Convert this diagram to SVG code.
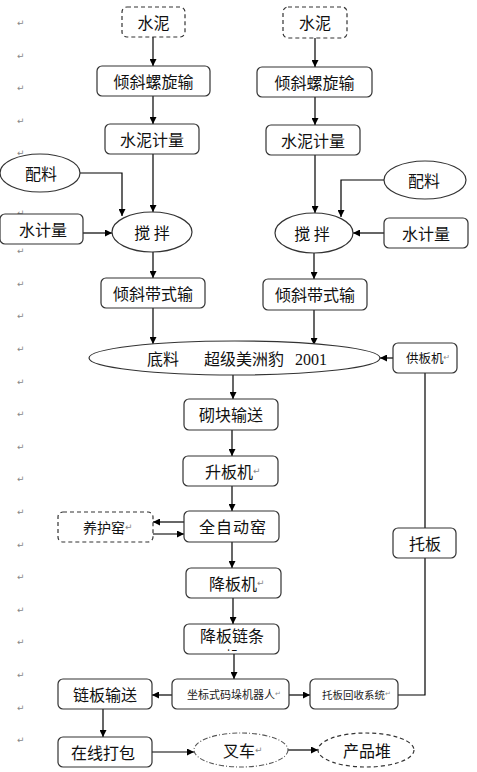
<svg xmlns="http://www.w3.org/2000/svg" width="477" height="772" viewBox="0 0 477 772">
<defs>
<marker id="ah" viewBox="0 0 10 10" refX="10" refY="5" markerWidth="8" markerHeight="7" markerUnits="userSpaceOnUse" orient="auto">
<path d="M0,0 L10,5 L0,10 z" fill="#000"/>
</marker>
<clipPath id="clipLine2"><rect x="185" y="645" width="93" height="6"/></clipPath>
</defs>
<style>
.box{fill:#fff;stroke:#333;stroke-width:1.2}
.dash{fill:#fff;stroke:#333;stroke-width:1.2;stroke-dasharray:4 3}
.dashdot{fill:#fff;stroke:#555;stroke-width:1.1;stroke-dasharray:5 2 1 2}
.t{font-family:"Noto Sans CJK SC","Noto Sans",sans-serif;font-size:16px;fill:#111;dominant-baseline:central}
.tc{text-anchor:middle}
.s{font-size:11px}
.pm{font-family:"DejaVu Sans",sans-serif;font-size:9px;fill:#888;dominant-baseline:central}
.c{fill:none;stroke:#000;stroke-width:1.2}
.ca{fill:none;stroke:#000;stroke-width:1.2;marker-end:url(#ah)}
</style>
<rect width="477" height="772" fill="#fff"/>

<g id="paragraph-marks">
<text class="pm" x="17" y="23">↵</text>
<text class="pm" x="17" y="56">↵</text>
<text class="pm" x="17" y="88">↵</text>
<text class="pm" x="17" y="121">↵</text>
<text class="pm" x="17" y="153">↵</text>
<text class="pm" x="17" y="186">↵</text>
<text class="pm" x="17" y="213">↵</text>
<text class="pm" x="17" y="251">↵</text>
<text class="pm" x="17" y="284">↵</text>
<text class="pm" x="17" y="316">↵</text>
<text class="pm" x="17" y="349">↵</text>
<text class="pm" x="17" y="382">↵</text>
<text class="pm" x="17" y="414">↵</text>
<text class="pm" x="17" y="447">↵</text>
<text class="pm" x="17" y="479">↵</text>
<text class="pm" x="17" y="512">↵</text>
<text class="pm" x="17" y="545">↵</text>
<text class="pm" x="17" y="577">↵</text>
<text class="pm" x="17" y="610">↵</text>
<text class="pm" x="17" y="642">↵</text>
<text class="pm" x="17" y="675">↵</text>
<text class="pm" x="17" y="708">↵</text>
<text class="pm" x="17" y="740">↵</text>
</g>

<g id="connectors">
<path class="ca" d="M153,37 V66"/>
<path class="ca" d="M153,96 V124"/>
<path class="ca" d="M153,154 V212"/>
<path class="ca" d="M80,173 H122 V216"/>
<path class="ca" d="M83,233 H112"/>
<path class="ca" d="M153,252 V278"/>
<path class="ca" d="M153,308 V344"/>
<path class="ca" d="M315,38 V67"/>
<path class="ca" d="M315,97 V125"/>
<path class="ca" d="M315,155 V213"/>
<path class="ca" d="M384,180 H341 V217"/>
<path class="ca" d="M384,233 H353"/>
<path class="ca" d="M314,253 V279"/>
<path class="ca" d="M314,310 V345"/>
<path class="ca" d="M393,358 H380"/>
<path class="ca" d="M233,375 V399"/>
<path class="ca" d="M232,430 V456"/>
<path class="ca" d="M232,486 V511"/>
<path class="ca" d="M184,522 H153"/>
<path class="ca" d="M153,534 H184" style="stroke:#555;stroke-width:1.6"/>
<path class="ca" d="M232,542 V568"/>
<path class="ca" d="M233,598 V624"/>
<path class="ca" d="M234,654 V679"/>
<path class="ca" d="M172,695 H152"/>
<path class="ca" d="M289,695 H310"/>
<path class="c" d="M398,695 H425 V558"/>
<path class="c" d="M425,528 V373"/>
<path class="ca" d="M103,709 V737"/>
<path class="ca" d="M152,752 H194"/>
<path class="ca" d="M288,750 H318"/>
</g>

<g id="cement-left">
<rect class="dash" x="122" y="7" width="63" height="30" rx="5"/>
<text class="t tc" x="153.5" y="22">水泥</text>
</g>
<g id="screw-left">
<rect class="box" x="97" y="66" width="113" height="30" rx="5"/>
<text class="t tc" x="153.5" y="81">倾斜螺旋输</text>
</g>
<g id="meter-left">
<rect class="box" x="105" y="124" width="94" height="30" rx="5"/>
<text class="t tc" x="152" y="139">水泥计量</text>
</g>
<g id="mix-material-left">
<ellipse class="box" cx="40" cy="173" rx="40" ry="19"/>
<text class="t tc" x="41" y="173">配料</text>
</g>
<g id="water-left">
<rect class="box" x="0" y="214" width="83" height="30" rx="5"/>
<text class="t tc" x="43" y="229">水计量</text>
</g>
<g id="mixer-left">
<ellipse class="box" cx="152" cy="232" rx="40" ry="20"/>
<text class="t tc" x="152" y="232">搅 拌</text>
</g>
<g id="belt-left">
<rect class="box" x="101" y="278" width="104" height="30" rx="5"/>
<text class="t tc" x="153" y="293">倾斜带式输</text>
</g>

<g id="cement-right">
<rect class="dash" x="283" y="7" width="64" height="31" rx="5"/>
<text class="t tc" x="315" y="22">水泥</text>
</g>
<g id="screw-right">
<rect class="box" x="257" y="67" width="115" height="30" rx="5"/>
<text class="t tc" x="314.5" y="82">倾斜螺旋输</text>
</g>
<g id="meter-right">
<rect class="box" x="266" y="125" width="94" height="30" rx="5"/>
<text class="t tc" x="313" y="140">水泥计量</text>
</g>
<g id="mix-material-right">
<ellipse class="box" cx="425" cy="180" rx="41" ry="19"/>
<text class="t tc" x="424" y="180">配料</text>
</g>
<g id="water-right">
<rect class="box" x="384" y="218" width="84" height="30" rx="5"/>
<text class="t tc" x="426" y="233">水计量</text>
</g>
<g id="mixer-right">
<ellipse class="box" cx="314" cy="233" rx="39" ry="20"/>
<text class="t tc" x="312" y="233">搅 拌</text>
</g>
<g id="belt-right">
<rect class="box" x="263" y="279" width="104" height="31" rx="5"/>
<text class="t tc" x="315" y="294">倾斜带式输</text>
</g>

<g id="machine">
<ellipse class="box" cx="234.5" cy="358" rx="145.5" ry="17"/>
<text class="t" x="147" y="358">底料</text>
<text class="t" x="204" y="358">超级美洲豹</text>
<text class="t" x="295" y="359" style="font-family:'Liberation Serif',serif;font-size:16px">2001</text>
</g>
<g id="board-feeder">
<rect class="box" x="393" y="343" width="64" height="30" rx="5"/>
<text class="t" x="406" y="357" style="font-size:12.5px">供板机<tspan class="pm" style="font-size:8px">↵</tspan></text>
</g>
<g id="block-conveyor">
<rect class="box" x="184" y="399" width="94" height="31" rx="5"/>
<text class="t tc" x="231" y="414">砌块输送</text>
</g>
<g id="lifter">
<rect class="box" x="183" y="456" width="95" height="30" rx="5"/>
<text class="t" x="205" y="471">升板机<tspan class="pm">↵</tspan></text>
</g>
<g id="curing-kiln">
<rect class="dash" x="58" y="512" width="95" height="30" rx="5"/>
<text class="t" x="83" y="527" style="font-size:14px">养护窑<tspan class="pm">↵</tspan></text>
</g>
<g id="auto-kiln">
<rect class="box" x="184" y="511" width="95" height="31" rx="5"/>
<text class="t tc" x="233" y="526" style="letter-spacing:1px">全自动窑</text>
</g>
<g id="lowerer">
<rect class="box" x="186" y="568" width="95" height="30" rx="5"/>
<text class="t" x="209" y="583">降板机<tspan class="pm">↵</tspan></text>
</g>
<g id="pallet">
<rect class="box" x="393" y="528" width="63" height="30" rx="5"/>
<text class="t tc" x="425" y="543">托板</text>
</g>
<g id="chain-lowerer">
<rect class="box" x="184" y="624" width="95" height="30" rx="5"/>
<text class="t tc" x="232" y="635">降板链条</text>
<text class="t" x="225" y="655" clip-path="url(#clipLine2)" style="font-size:14px">机<tspan class="pm">↵</tspan></text>
</g>
<g id="stacking-robot">
<rect class="box" x="172" y="679" width="117" height="30" rx="5"/>
<text class="t s" x="187" y="694" style="fill:#222">坐标式码垛机器人<tspan class="pm" style="font-size:7px">↵</tspan></text>
</g>
<g id="pallet-recovery">
<rect class="box" x="310" y="679" width="88" height="30" rx="5"/>
<text class="t" x="322" y="694" style="font-size:10.5px;fill:#222">托板回收系统<tspan class="pm" style="font-size:7px">↵</tspan></text>
</g>
<g id="chain-conveyor">
<rect class="box" x="58" y="679" width="94" height="30" rx="5"/>
<text class="t tc" x="105" y="694">链板输送</text>
</g>
<g id="packing">
<rect class="box" x="58" y="737" width="94" height="30" rx="5"/>
<text class="t tc" x="103" y="752">在线打包</text>
</g>
<g id="forklift">
<ellipse class="dashdot" cx="241" cy="750" rx="47" ry="17"/>
<text class="t" x="223" y="750">叉车<tspan class="pm">↵</tspan></text>
</g>
<g id="product-stack">
<ellipse class="dash" cx="366" cy="750" rx="48" ry="17"/>
<text class="t tc" x="367" y="750">产品堆</text>
</g>
</svg>
